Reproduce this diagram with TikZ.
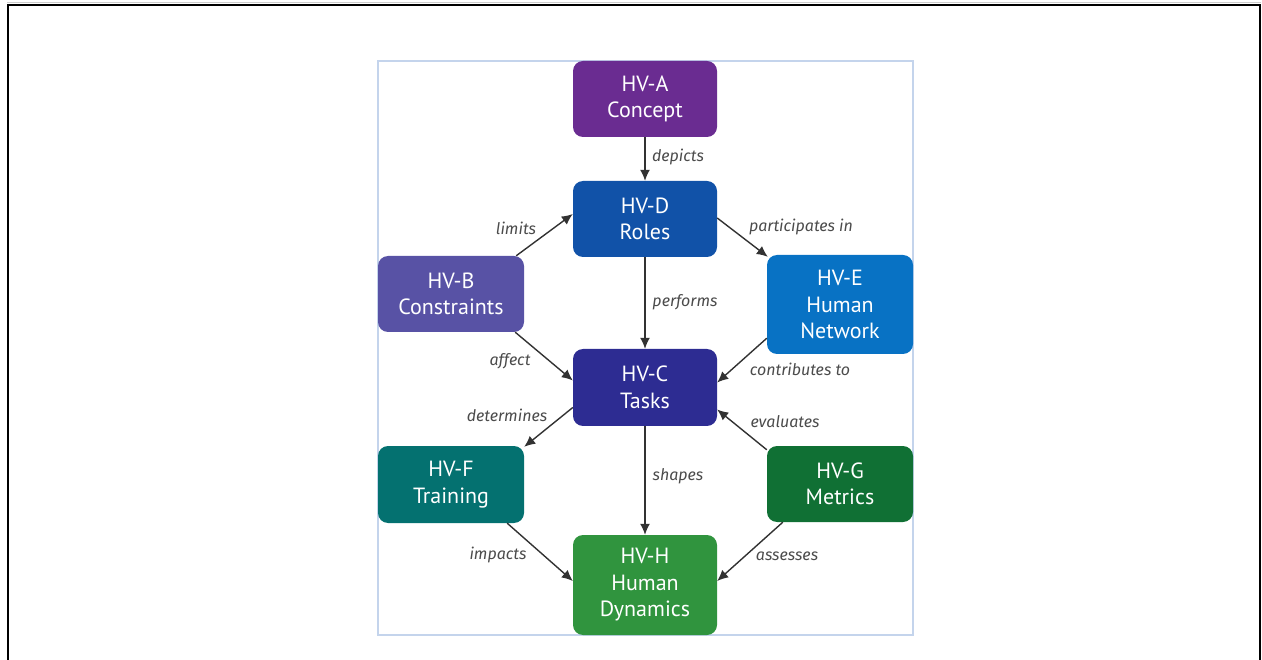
\documentclass[tikz,border=0pt]{standalone}
\usepackage{fontspec}
\setmainfont{PT Sans}
\newfontfamily\labelfont{Fira Sans}
\usetikzlibrary{arrows.meta}

\definecolor{frameblue}{RGB}{196,212,236}
\definecolor{cA}{RGB}{106,44,145}
\definecolor{cD}{RGB}{17,82,168}
\definecolor{cB}{RGB}{88,82,165}
\definecolor{cE}{RGB}{8,114,196}
\definecolor{cC}{RGB}{45,44,146}
\definecolor{cF}{RGB}{4,113,112}
\definecolor{cG}{RGB}{16,112,52}
\definecolor{cH}{RGB}{48,148,62}
\definecolor{arrowgray}{RGB}{50,50,50}
\definecolor{labelgray}{RGB}{75,75,75}

\tikzset{
  viewbox/.style={rounded corners=10pt, fill=#1, text=white, align=center,
    font=\fontsize{22}{26.5}\selectfont, inner sep=0pt},
  link/.style={draw=arrowgray, line width=1.4pt,
    -{Latex[length=11pt,width=10pt]}},
  linklabel/.style={text=labelgray, font=\labelfont\fontsize{16}{19}\selectfont\itshape, inner sep=0pt}
}

\begin{document}
\begin{tikzpicture}[x=1pt, y=-1pt]
  \useasboundingbox (0,0) rectangle (1262,660);
  % page frame (open at the bottom)
  \draw[black!20, line width=1pt] (7,3) -- (1261,3);
  \draw[black, line width=2pt] (8,663) -- (8,5) -- (1260,5) -- (1260,663);
  % light blue panel
  \draw[frameblue, line width=2pt] (378,61) rectangle (913,635);

  % views
  \node[viewbox=cA, minimum width=144pt, minimum height=76pt] (A) at (645,99) {HV-A\\Concept};
  \node[viewbox=cD, minimum width=144pt, minimum height=76pt] (D) at (645,219) {HV-D\\Roles};
  \node[viewbox=cB, minimum width=146pt, minimum height=76pt] (B) at (451,294) {HV-B\\Constraints};
  \node[viewbox=cE, minimum width=146pt, minimum height=99pt] (E) at (840,304.5) {HV-E\\Human\\Network};
  \node[viewbox=cC, minimum width=144pt, minimum height=77pt] (C) at (645,387.5) {HV-C\\Tasks};
  \node[viewbox=cF, minimum width=146pt, minimum height=77pt] (F) at (451,484.5) {HV-F\\Training};
  \node[viewbox=cG, minimum width=146pt, minimum height=76pt] (G) at (840,484) {HV-G\\Metrics};
  \node[viewbox=cH, minimum width=144pt, minimum height=100pt] (H) at (645,585) {HV-H\\Human\\Dynamics};

  % relations
  \draw[link] (A.south) -- (D.north);
  \draw[link] ([xshift=-8pt]B.north east) -- ([yshift=5pt]D.west);
  \draw[link] ([yshift=1pt]D.east) -- ([xshift=1pt,yshift=-2pt]E.north west);
  \draw[link] (D.south) -- (C.north);
  \draw[link] ([xshift=-9pt]B.south east) -- ([yshift=7pt]C.west);
  \draw[link] ([yshift=16pt]E.south west) -- ([yshift=5pt]C.east);
  \draw[link] ([yshift=-20pt]C.west) -- ([xshift=0pt,yshift=-1pt]F.north east);
  \draw[link] ([yshift=-4pt]G.north west) -- ([yshift=-22pt]C.east);
  \draw[link] (C.south) -- (H.north);
  \draw[link] ([xshift=-17pt]F.south east) -- ([yshift=4pt]H.west);
  \draw[link] ([xshift=16pt]G.south west) -- ([yshift=4pt]H.east);

  % relation labels
  \node[linklabel] (lA) at (678,157) {depicts};
  \node[linklabel] (lB) at (516,228) {limits};
  \node[linklabel] (lE) at (801,227) {participates in};
  \node[linklabel] (lP) at (685,302) {performs};
  \node[linklabel] (lBC) at (510,361) {affect};
  \node[linklabel] (lEC) at (800,369) {contributes to};
  \node[linklabel] (lF) at (507,415) {determines};
  \node[linklabel] (lG) at (785,422) {evaluates};
  \node[linklabel] (lS) at (678,476) {shapes};
  \node[linklabel] (lI) at (498,555) {impacts};
  \node[linklabel] (lH) at (787,556) {assesses};
\end{tikzpicture}
\end{document}
